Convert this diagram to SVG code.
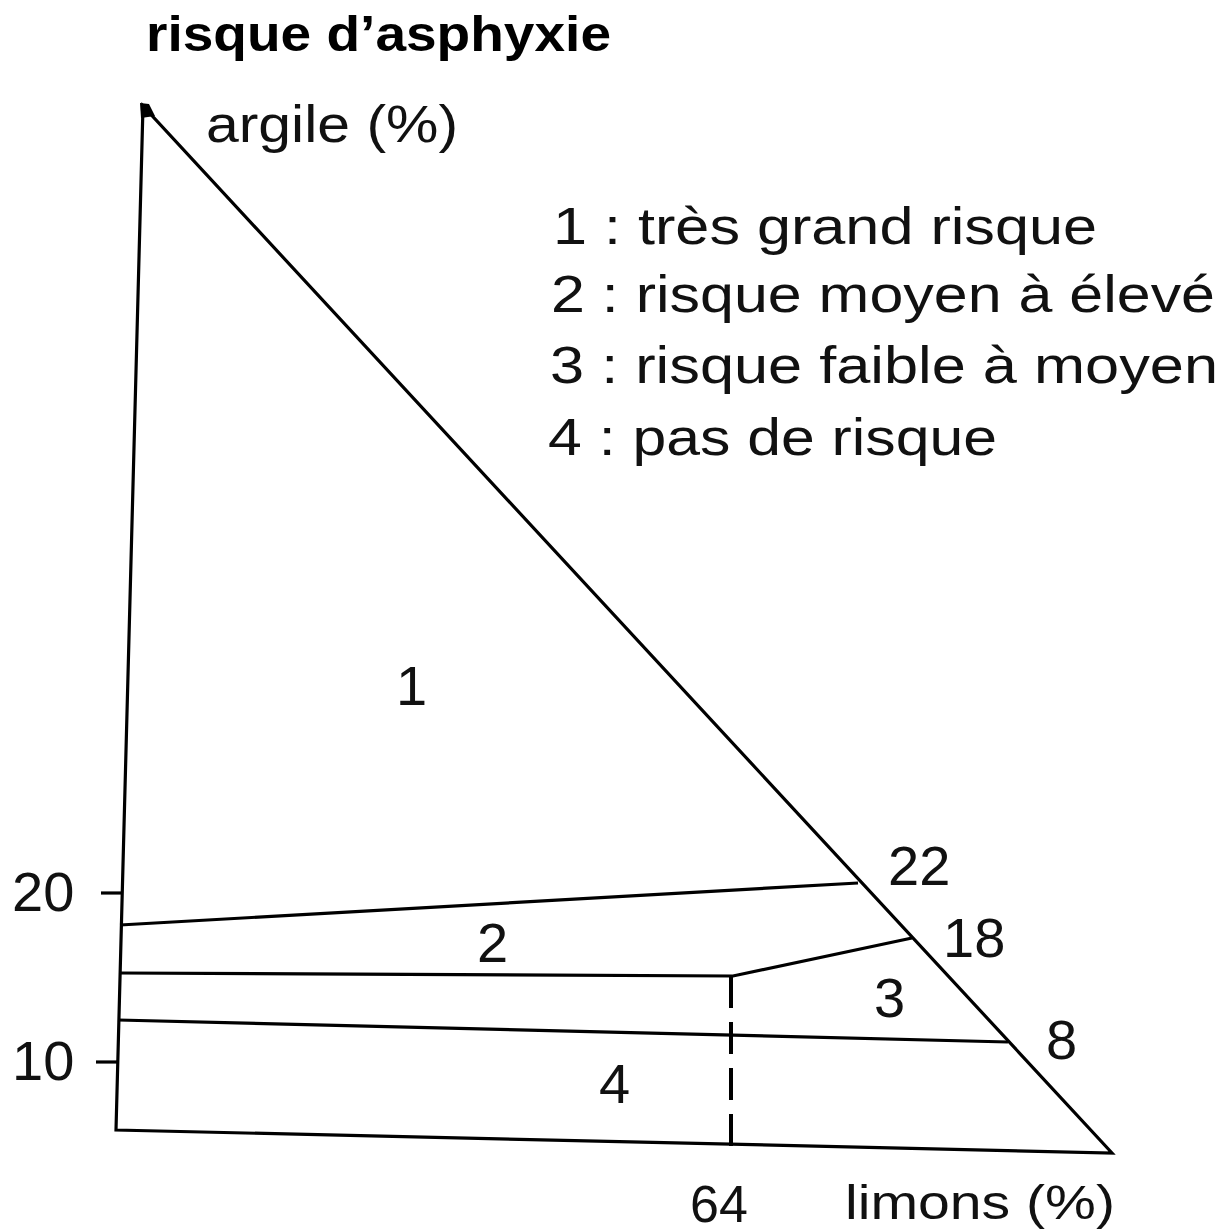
<svg xmlns="http://www.w3.org/2000/svg" width="1224" height="1232" viewBox="0 0 1224 1232">
<style>
.ln{fill:none;stroke:#000;stroke-width:3.2;stroke-linejoin:miter;stroke-linecap:butt}
.ds{fill:none;stroke:#000;stroke-width:4;stroke-dasharray:32 14}
.t{font-family:"Liberation Sans",Arial,sans-serif;font-size:52px;fill:#111}
.n{font-family:"Liberation Sans",Arial,sans-serif;font-size:56px;fill:#111}
.b{font-family:"Liberation Sans",Arial,sans-serif;font-size:50px;font-weight:bold;fill:#000}
</style>
<rect width="1224" height="1232" fill="#fff"/>
<g id="title"><text class="b" x="146" y="51" textLength="465" lengthAdjust="spacingAndGlyphs">risque d’asphyxie</text></g>
<g id="triangle">
<path class="ln" d="M143,106 L116,1130 L1112,1153 Z"/>
<path d="M140,103 L149,104 L155,116 L141,118 Z" fill="#000"/>
</g>
<g id="connectors">
<path class="ln" d="M120,925 L858,883"/>
<path class="ln" d="M119,973 L733,976 L912,938"/>
<path class="ln" d="M118,1020 L1008,1042"/>
<path class="ds" d="M731,976 L731,1150"/>
<path class="ln" d="M101,893 L121,893"/>
<path class="ln" d="M96,1062 L117,1062"/>
</g>
<g id="axis-labels">
<text class="t" x="206" y="142" textLength="252" lengthAdjust="spacingAndGlyphs">argile (%)</text>
<text class="t" x="845" y="1219" style="font-size:49px" textLength="270" lengthAdjust="spacingAndGlyphs">limons (%)</text>
<text class="n" x="12" y="911">20</text>
<text class="n" x="12" y="1080">10</text>
<text class="n" x="888" y="885">22</text>
<text class="n" x="943" y="957">18</text>
<text class="n" x="1046" y="1059">8</text>
<text class="n" x="690" y="1222" style="font-size:52px">64</text>
</g>
<g id="zones">
<text class="n" x="396" y="705">1</text>
<text class="n" x="477" y="962">2</text>
<text class="n" x="874" y="1017">3</text>
<text class="n" x="599" y="1103">4</text>
</g>
<g id="legend">
<text class="t" x="553" y="244" textLength="544" lengthAdjust="spacingAndGlyphs">1 : très grand risque</text>
<text class="t" x="551" y="312" textLength="664" lengthAdjust="spacingAndGlyphs">2 : risque moyen à élevé</text>
<text class="t" x="550" y="383" textLength="668" lengthAdjust="spacingAndGlyphs">3 : risque faible à moyen</text>
<text class="t" x="548" y="455" textLength="449" lengthAdjust="spacingAndGlyphs">4 : pas de risque</text>
</g>
</svg>
